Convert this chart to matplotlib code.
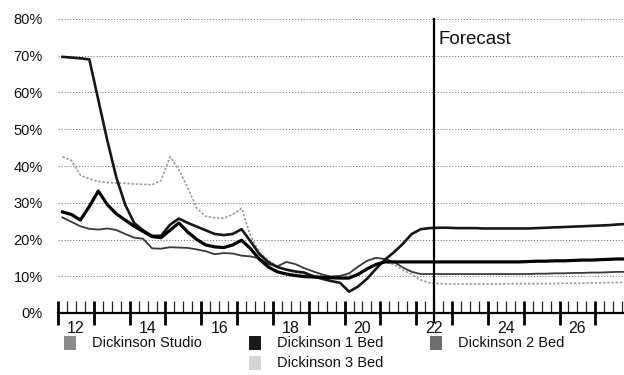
import numpy as np
import pandas as pd
import matplotlib
matplotlib.use("Agg")
import matplotlib.pyplot as plt
from matplotlib.ticker import FixedLocator, MultipleLocator, NullFormatter
from matplotlib.patches import Rectangle

plt.rcParams['font.family'] = ['Liberation Sans', 'DejaVu Sans']

# ---------------- data ----------------
periods = pd.period_range('2012Q1', '2027Q4', freq='Q')

series_names = ["Dickinson Studio", "Dickinson 1 Bed", "Dickinson 2 Bed", "Dickinson 3 Bed"]

studio = [26.0, 24.8, 23.6, 22.9, 22.7, 23.0, 22.6, 21.5, 20.5, 20.2,
          17.6, 17.5, 17.9, 17.8, 17.7, 17.3, 16.8, 16.0, 16.3, 16.2,
          15.6, 15.4, 14.8, 13.3, 12.7, 13.9, 13.3, 12.2, 11.3, 10.5,
          9.9, 10.1, 10.8, 12.6, 14.2, 15.0, 14.7, 13.9, 12.4, 11.2,
          10.6,
          10.6, 10.6, 10.6, 10.6, 10.6, 10.6, 10.6, 10.6, 10.6, 10.6, 10.6, 10.6,
          10.7, 10.7, 10.8, 10.8, 10.9, 10.9, 11.0, 11.0, 11.1, 11.2, 11.2]

bed1 = [27.5, 26.8, 25.3, 29.0, 33.2, 29.5, 27.0, 25.3, 23.6, 22.2,
        20.8, 20.5, 22.5, 24.5, 22.0, 20.0, 18.5, 18.0, 17.8, 18.5,
        19.8, 17.5, 14.6, 12.5, 11.2, 10.6, 10.2, 9.9, 9.8, 9.7,
        9.6, 9.5, 9.5, 10.5, 12.0, 13.2, 13.9,
        13.9, 13.9, 13.9, 13.9, 13.9, 13.9, 13.9, 13.9, 13.9, 13.9, 13.9, 13.9,
        13.9, 13.9, 13.9, 14.0, 14.1, 14.1, 14.2, 14.2, 14.3, 14.4, 14.4, 14.5,
        14.6, 14.7, 14.7]

bed2 = [69.7, 69.5, 69.3, 69.0, 58.0, 47.0, 37.0, 29.5, 24.5, 22.5,
        21.0, 21.0, 24.0, 25.7, 24.5, 23.5, 22.5, 21.5, 21.2, 21.5,
        22.8, 19.5, 16.0, 13.8, 12.5, 11.8, 11.3, 11.0, 10.0, 9.3,
        8.7, 8.2, 5.8, 7.2, 9.3, 12.0, 14.5, 16.5, 18.8, 21.5,
        22.8, 23.1,
        23.2, 23.2, 23.1, 23.1, 23.1, 23.0, 23.0, 23.0, 23.0, 23.0, 23.0,
        23.1, 23.2, 23.3, 23.4, 23.5, 23.6, 23.7, 23.8, 23.9, 24.1, 24.2]

bed3 = [42.5, 41.5, 37.5, 36.5, 35.8, 35.5, 35.4, 35.3, 35.1, 35.0,
        34.9, 36.0, 42.5, 39.0, 34.0, 28.5, 26.3, 25.9, 25.8, 26.8,
        28.5, 21.0, 16.5, 14.3, 12.7, 11.7, 11.0, 10.6, 10.3, 10.1,
        10.0, 10.0, 10.2, 10.4, 11.7, 13.3, 14.0, 13.2, 11.7, 10.5,
        9.0, 8.2,
        8.0, 7.9, 7.9, 7.9, 7.9, 7.9, 7.9, 7.9, 8.0, 8.0, 8.0,
        8.0, 8.0, 8.0, 8.1, 8.1, 8.1, 8.2, 8.2, 8.3, 8.3, 8.4]

year_labels = ["12", "14", "16", "18", "20", "22", "24", "26"]
y_ticks = [0, 10, 20, 30, 40, 50, 60, 70, 80]
forecast_year = 22
forecast_label = "Forecast"

# ---------------- figure ----------------
W, H = 624, 375
fig = plt.figure(figsize=(W / 100, H / 100), dpi=100)
ax_left, ax_right = 58 / W, 1.0
ax_bottom, ax_top = (H - 313) / H, (H - 19) / H
ax = fig.add_axes([ax_left, ax_bottom, ax_right - ax_left, ax_top - ax_bottom])

x = np.array([p.year - 2000 - 0.5 + (p.quarter - 0.5) / 4 for p in periods])

styles = {
    "Dickinson Studio": dict(color="#3a3a3a", lw=1.3, ls="-"),
    "Dickinson 1 Bed": dict(color="#000000", lw=2.3, ls="-"),
    "Dickinson 2 Bed": dict(color="#161616", lw=1.9, ls="-"),
    "Dickinson 3 Bed": dict(color="#9c9c9c", lw=1.2, ls=(0, (1.5, 1.0))),
}
data = {"Dickinson Studio": studio, "Dickinson 1 Bed": bed1,
        "Dickinson 2 Bed": bed2, "Dickinson 3 Bed": bed3}

# gridlines
for v in y_ticks[1:]:
    ax.axhline(v, color="#7a7a7a", lw=0.7, ls=(0, (1.2, 1.8)), zorder=1)

for name in ["Dickinson 3 Bed", "Dickinson Studio", "Dickinson 2 Bed", "Dickinson 1 Bed"]:
    st = styles[name]
    ax.plot(x, data[name], color=st["color"], lw=st["lw"], ls=st["ls"],
            solid_joinstyle="round", zorder=3)

ax.set_xlim(11.5, 27.3)
ax.set_ylim(0, 80)

# axes styling
for s in ["left", "right", "top"]:
    ax.spines[s].set_visible(False)
ax.spines["bottom"].set_linewidth(1.6)
ax.spines["bottom"].set_color("black")

ax.set_yticks(y_ticks)
ax.set_yticklabels([f"{v}%" for v in y_ticks], fontsize=10.5, color="#111111")
ax.tick_params(axis="y", length=0, pad=11)

ax.xaxis.set_major_locator(FixedLocator(np.arange(11.5, 28.0, 1.0)))
ax.xaxis.set_major_formatter(NullFormatter())
ax.xaxis.set_minor_locator(MultipleLocator(0.25))
ax.tick_params(axis="x", which="major", direction="inout", length=17, width=2.0, color="black")
ax.tick_params(axis="x", which="minor", direction="in", length=9, width=0.9, color="#222222")

sec = ax.secondary_xaxis("bottom")
sec.set_xticks([int(l) for l in year_labels])
sec.set_xticklabels(year_labels, fontsize=11.5, color="#111111")
sec.tick_params(length=0, pad=6)
sec.spines["bottom"].set_visible(False)

# forecast line
ax.axvline(forecast_year, ymin=-0.03, ymax=1.0, color="black", lw=1.6, clip_on=False, zorder=4)
ax.text(forecast_year + 0.13, 74.3, forecast_label, fontsize=13.5, ha="left", va="center",
        color="#111111")

# legend (manual, pixel positions)
legend_colors = {"Dickinson Studio": "#8c8c8c", "Dickinson 1 Bed": "#1a1a1a",
                 "Dickinson 2 Bed": "#6e6e6e", "Dickinson 3 Bed": "#d4d4d4"}
legend_pos = {"Dickinson Studio": (70, 343), "Dickinson 1 Bed": (255, 343),
              "Dickinson 2 Bed": (436, 343), "Dickinson 3 Bed": (255, 363)}
for name in series_names:
    cx, cy = legend_pos[name]
    fig.patches.append(Rectangle(((cx - 6) / W, 1 - (cy + 7) / H), 12 / W, 14 / H,
                                 transform=fig.transFigure, facecolor=legend_colors[name],
                                 edgecolor="none"))
    fig.text((cx + 22) / W, 1 - cy / H, name, fontsize=10.5, ha="left", va="center",
             color="#111111")

fig.savefig("out.png", dpi=100)
